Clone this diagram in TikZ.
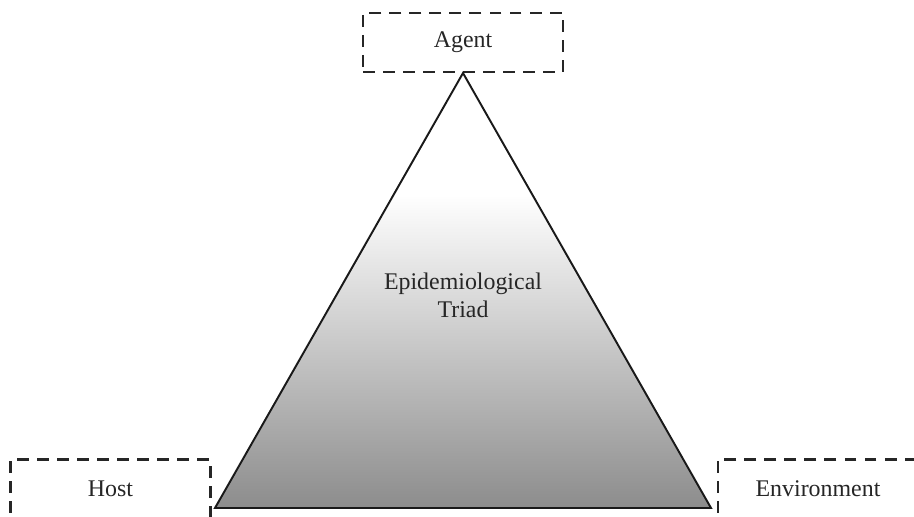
\documentclass[tikz,border=0pt]{standalone}
\usepackage{fontspec}
\setmainfont{Liberation Serif}
\usepackage{tikz}
\usetikzlibrary{positioning}
\usetikzlibrary{calc}
\pgfdeclareverticalshading{triadshade}{100bp}{color(0bp)=(black!45); color(25bp)=(black!45); color(61bp)=(white); color(100bp)=(white)}
\tikzstyle{factor}=[draw=black!85,dash pattern=on 6.8pt off 4.6pt,line width=1.2pt,minimum width=4cm,minimum height=1.18cm,inner sep=0pt,font=\fontsize{13.6}{16}\selectfont,text=black!85]
\tikzstyle{triad}=[draw=black!90,line width=1.1pt,shading=triadshade]
\tikzstyle{triadtext}=[align=center,inner sep=0pt,font=\fontsize{13.6}{16}\selectfont,text=black!85]

\begin{document}
\begin{tikzpicture}[x=0.02cm,y=-0.02cm]
    \useasboundingbox (0,0) rectangle (914,517);
    \foreach \pos/\name/\label in {{(463,42.5)/agent/Agent}, {(110.5,489)/host/Host}, {(818,489)/env/Environment}}
        \node[factor] (\name) at \pos {\label};

    \coordinate (base left) at (215,508);
    \coordinate (base right) at (711,508);
    \path[triad] (agent.south) -- (base left) -- (base right) -- cycle;

    \node[triadtext] (triad) at (463,295) {Epidemiological\\Triad};
\end{tikzpicture}
\end{document}
